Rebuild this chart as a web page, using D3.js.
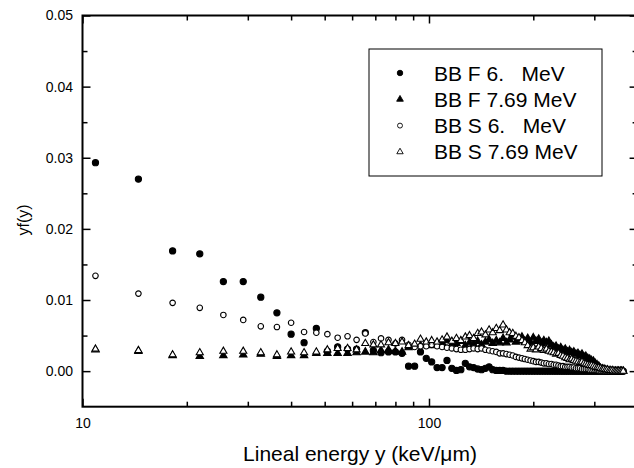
<!DOCTYPE html>
<html>
<head>
<meta charset="utf-8">
<script src="https://cdn.jsdelivr.net/npm/d3@7"></script>
<style>
  body { margin: 0; background: #fff; }
  svg { display: block; font-family: "Liberation Sans", Arial, Helvetica, sans-serif; }
  .tick line { stroke: #000; stroke-width: 1.5; }
  .tick text { fill: #000; font-size: 14px; }
</style>
</head>
<body>
<div id="chart"></div>
<script>
// Lineal energy bins (keV/um)
const energy = [
  10.9, 14.5, 18.2, 21.8, 25.5, 29.1, 32.7, 36.4, 40.0, 43.6,
  47.3, 50.9, 54.5, 58.2, 61.8, 65.5, 69.1, 72.7, 76.4, 80.0,
  83.6, 87.3, 90.9, 94.5, 98.2, 101.8, 105.5, 109.1, 112.7, 116.4,
  120.0, 123.6, 127.3, 130.9, 134.5, 138.2, 141.8, 145.5, 149.1, 152.7,
  156.4, 160.0, 163.6, 167.3, 170.9, 174.5, 178.2, 181.8, 185.5, 189.1,
  192.7, 196.4, 200.0, 203.6, 207.3, 210.9, 214.5, 218.2, 221.8, 225.5,
  229.1, 232.7, 236.4, 240.0, 243.6, 247.3, 250.9, 254.5, 258.2, 261.8,
  265.5, 269.1, 272.7, 276.4, 280.0, 283.6, 287.3, 290.9, 294.5, 298.2,
  301.8, 305.5, 309.1, 312.7, 316.4, 320.0, 323.6, 327.3, 330.9, 334.5,
  338.2, 341.8, 345.5, 349.1, 352.7, 356.4, 360.0, 363.6
];

// yf(y) values
const bbF6 = [
  0.0293, 0.0270, 0.0169, 0.0165, 0.0126, 0.0126, 0.0104, 0.0082, 0.0052, 0.0040,
  0.0060, 0.0028, 0.0034, 0.0031, 0.0031, 0.0054, 0.0029, 0.0026, 0.0027, 0.0027,
  0.0025, 0.0007, 0.0007, 0.0027, 0.0018, 0.0013, 0.0005, 0.0005, 0.0015, 0.0004,
  0.0001, 0.0002, 0.0011, 0.0006, 0.0005, 0.0003, 0.0002, 0.0004, 0.0006, 0.0002,
  0.0001, 0.0001, 0.0001, 0.0000, 0.0000, 0.0000, 0.0000, 0.0000, 0.0000, 0.0000,
  0.0000, 0.0000, 0.0000, 0.0000, 0.0000, 0.0000, 0.0000, 0.0000, 0.0000, 0.0000,
  0.0000, 0.0000, 0.0000, 0.0000, 0.0000, 0.0000, 0.0000, 0.0000, 0.0000, 0.0000,
  0.0000, 0.0000, 0.0000, 0.0000, 0.0000, 0.0000, 0.0000, 0.0000, 0.0000, 0.0000,
  0.0000, 0.0000, 0.0000, 0.0000, 0.0000, 0.0000, 0.0000, 0.0000, 0.0000, 0.0000,
  0.0000, 0.0000, 0.0000, 0.0000, 0.0000, 0.0000, 0.0000, 0.0000
];
const bbF769 = [
  0.0030, 0.0028, 0.0022, 0.0021, 0.0022, 0.0023, 0.0024, 0.0021, 0.0022, 0.0022,
  0.0025, 0.0025, 0.0025, 0.0025, 0.0026, 0.0027, 0.0026, 0.0029, 0.0030, 0.0028,
  0.0027, 0.0033, 0.0036, 0.0036, 0.0037, 0.0036, 0.0038, 0.0040, 0.0043, 0.0037,
  0.0039, 0.0042, 0.0036, 0.0040, 0.0038, 0.0042, 0.0037, 0.0041, 0.0044, 0.0039,
  0.0043, 0.0040, 0.0046, 0.0040, 0.0044, 0.0048, 0.0041, 0.0045, 0.0048, 0.0042,
  0.0046, 0.0040, 0.0047, 0.0042, 0.0045, 0.0039, 0.0043, 0.0040, 0.0042, 0.0037,
  0.0034, 0.0035, 0.0031, 0.0033, 0.0029, 0.0031, 0.0027, 0.0029, 0.0026, 0.0027,
  0.0024, 0.0025, 0.0022, 0.0024, 0.0020, 0.0021, 0.0018, 0.0017, 0.0015, 0.0014,
  0.0011, 0.0009, 0.0007, 0.0004, 0.0003, 0.0002, 0.0001, 0.0001, 0.0000, 0.0000,
  0.0000, 0.0000, 0.0000, 0.0000, 0.0000, 0.0000, 0.0000, 0.0000
];
const bbS6 = [
  0.0134, 0.0109, 0.0096, 0.0089, 0.0079, 0.0072, 0.0063, 0.0062, 0.0068, 0.0055,
  0.0054, 0.0052, 0.0047, 0.0049, 0.0044, 0.0053, 0.0041, 0.0046, 0.0044, 0.0039,
  0.0044, 0.0037, 0.0034, 0.0035, 0.0035, 0.0037, 0.0035, 0.0034, 0.0033, 0.0032,
  0.0031, 0.0030, 0.0030, 0.0031, 0.0032, 0.0031, 0.0032, 0.0030, 0.0029, 0.0028,
  0.0027, 0.0025, 0.0025, 0.0024, 0.0023, 0.0022, 0.0020, 0.0019, 0.0018, 0.0017,
  0.0016, 0.0015, 0.0014, 0.0013, 0.0013, 0.0012, 0.0011, 0.0011, 0.0010, 0.0010,
  0.0009, 0.0009, 0.0008, 0.0007, 0.0007, 0.0006, 0.0006, 0.0006, 0.0005, 0.0005,
  0.0004, 0.0004, 0.0004, 0.0003, 0.0003, 0.0003, 0.0003, 0.0002, 0.0002, 0.0002,
  0.0002, 0.0002, 0.0001, 0.0001, 0.0001, 0.0001, 0.0000, 0.0000, 0.0000, 0.0000,
  0.0000, 0.0000, 0.0000, 0.0000, 0.0000, 0.0000, 0.0000, 0.0000
];
const bbS769 = [
  0.0031, 0.0029, 0.0023, 0.0026, 0.0028, 0.0028, 0.0026, 0.0023, 0.0027, 0.0026,
  0.0027, 0.0030, 0.0032, 0.0032, 0.0030, 0.0039, 0.0037, 0.0037, 0.0040, 0.0039,
  0.0041, 0.0036, 0.0038, 0.0045, 0.0041, 0.0043, 0.0041, 0.0044, 0.0048, 0.0042,
  0.0046, 0.0043, 0.0048, 0.0050, 0.0046, 0.0053, 0.0055, 0.0051, 0.0058, 0.0054,
  0.0060, 0.0057, 0.0065, 0.0058, 0.0054, 0.0053, 0.0049, 0.0047, 0.0043, 0.0040,
  0.0036, 0.0031, 0.0033, 0.0030, 0.0034, 0.0032, 0.0029, 0.0031, 0.0028, 0.0027,
  0.0026, 0.0024, 0.0025, 0.0022, 0.0021, 0.0019, 0.0018, 0.0016, 0.0017, 0.0015,
  0.0014, 0.0013, 0.0012, 0.0013, 0.0011, 0.0010, 0.0009, 0.0008, 0.0008, 0.0007,
  0.0006, 0.0005, 0.0005, 0.0004, 0.0003, 0.0003, 0.0002, 0.0002, 0.0001, 0.0001,
  0.0001, 0.0000, 0.0000, 0.0000, 0.0000, 0.0000, 0.0000, 0.0000
];

const seriesNames = ["BB F 6.   MeV", "BB F 7.69 MeV", "BB S 6.   MeV", "BB S 7.69 MeV"];
const xMajorTicks = [10, 100];
const xMinorTicks = [20, 30, 40, 50, 60, 70, 80, 90, 200, 300, 400];
const yMajorTicks = [0, 0.01, 0.02, 0.03, 0.04, 0.05];
const yMinorTicks = [0.005, 0.015, 0.025, 0.035, 0.045];

const totalW = 634, totalH = 468;
const margin = {top: 15.5, left: 82.5};
const width = 555.1;   // right edge sits just past the visible frame
const height = 391.2;

const svg = d3.select("#chart")
    .append("svg")
    .attr("width", totalW)
    .attr("height", totalH);

const g = svg.append("g")
    .attr("transform", `translate(${margin.left},${margin.top})`);

const x = d3.scaleLog()
    .domain([10, 400])
    .range([0, width]);

const y = d3.scaleLinear()
    .domain([-0.005, 0.05])
    .range([height, 0]);

// Axes (ticks pointing inward)
g.append("g")
    .attr("transform", `translate(0,${height})`)
    .call(d3.axisBottom(x).tickValues(xMajorTicks).tickSize(-8).tickPadding(11.5).tickFormat(d3.format("d")))
    .call(a => a.select(".domain").remove());
g.append("g")
    .attr("transform", `translate(0,${height})`)
    .call(d3.axisBottom(x).tickValues(xMinorTicks).tickSize(-5).tickFormat(""))
    .call(a => a.select(".domain").remove());
g.append("g")
    .call(d3.axisTop(x).tickValues(xMajorTicks).tickSize(-8).tickFormat(""))
    .call(a => a.select(".domain").remove());
g.append("g")
    .call(d3.axisTop(x).tickValues(xMinorTicks).tickSize(-5).tickFormat(""))
    .call(a => a.select(".domain").remove());

g.append("g")
    .call(d3.axisLeft(y).tickValues(yMajorTicks).tickSize(-8).tickPadding(9.5).tickFormat(d3.format(".2f")))
    .call(a => a.select(".domain").remove());
g.append("g")
    .call(d3.axisLeft(y).tickValues(yMinorTicks).tickSize(-5).tickFormat(""))
    .call(a => a.select(".domain").remove());
g.append("g")
    .attr("transform", `translate(${width},0)`)
    .call(d3.axisRight(y).tickValues(yMajorTicks).tickSize(-8).tickFormat(""))
    .call(a => a.select(".domain").remove());
g.append("g")
    .attr("transform", `translate(${width},0)`)
    .call(d3.axisRight(y).tickValues(yMinorTicks).tickSize(-5).tickFormat(""))
    .call(a => a.select(".domain").remove());

// Frame
g.append("rect")
    .attr("width", width)
    .attr("height", height)
    .attr("fill", "none")
    .attr("stroke", "#000")
    .attr("stroke-width", 2);

// Series: filled ones first, open (white-filled) ones on top
const series = [
  {name: seriesNames[0], values: bbF6,   type: d3.symbolCircle,   size: 30, fill: "#000"},
  {name: seriesNames[1], values: bbF769, type: d3.symbolTriangle, size: 24, fill: "#000"},
  {name: seriesNames[2], values: bbS6,   type: d3.symbolCircle,   size: 24, fill: "#fff"},
  {name: seriesNames[3], values: bbS769, type: d3.symbolTriangle, size: 22, fill: "#fff"}
];

series.forEach(s => {
    g.append("g")
        .selectAll("path")
        .data(energy.map((e, i) => ({e: e, v: s.values[i]})))
        .enter().append("path")
        .attr("transform", d => `translate(${x(d.e)},${y(d.v)})`)
        .attr("d", d3.symbol().type(s.type).size(s.size))
        .attr("fill", s.fill)
        .attr("stroke", "#000")
        .attr("stroke-width", 1.1);
});

// Axis titles
svg.append("text")
    .attr("x", 360)
    .attr("y", 461)
    .attr("text-anchor", "middle")
    .style("font-size", "21px")
    .text("Lineal energy y (keV/\u03bcm)");

svg.append("text")
    .attr("transform", "translate(29,220) rotate(-90)")
    .attr("text-anchor", "middle")
    .style("font-size", "16px")
    .text("yf(y)");

// Legend
const legend = svg.append("g");
legend.append("rect")
    .attr("x", 369)
    .attr("y", 49)
    .attr("width", 233)
    .attr("height", 127)
    .attr("fill", "#fff")
    .attr("stroke", "#000")
    .attr("stroke-width", 1);

const rows = legend.selectAll(".row")
    .data(series)
    .enter().append("g")
    .attr("class", "row")
    .attr("transform", (d, i) => `translate(0,${73 + i * 26.3})`);

rows.append("path")
    .attr("transform", "translate(400,0)")
    .attr("d", d => d3.symbol().type(d.type).size(d.size * 0.8)())
    .attr("fill", d => d.fill)
    .attr("stroke", "#000")
    .attr("stroke-width", 0.9);

rows.append("text")
    .attr("x", 434)
    .attr("y", 7.5)
    .style("font-size", "21px")
    .style("white-space", "pre")
    .attr("xml:space", "preserve")
    .text(d => d.name);
</script>
</body>
</html>
